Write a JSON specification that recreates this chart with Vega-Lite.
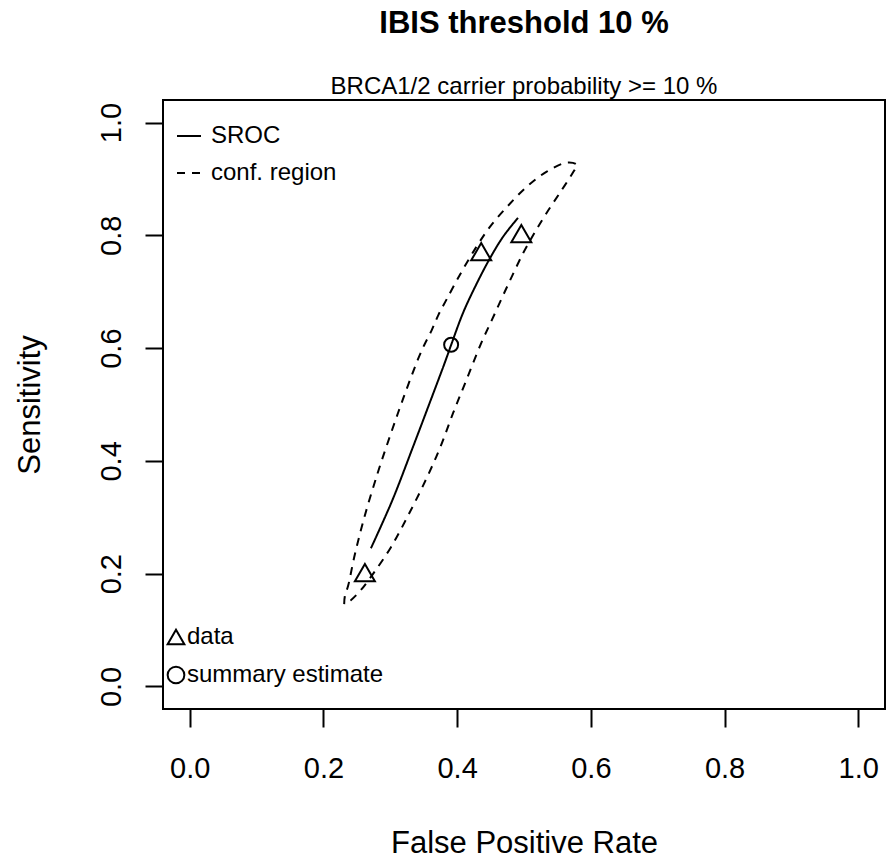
{
  "$schema": "https://vega.github.io/schema/vega-lite/v6.json",
  "width": 722,
  "height": 609,
  "autosize": {"type": "none"},
  "padding": {"left": 163, "top": 100, "right": 1, "bottom": 150},
  "background": "white",
  "config": {
    "font": "Liberation Sans",
    "view": {"stroke": "black", "strokeWidth": 2},
    "axis": {
      "domain": false,
      "grid": false,
      "tickSize": 18,
      "tickWidth": 2,
      "tickColor": "black",
      "labelColor": "black",
      "labelFontSize": 29,
      "titleColor": "black",
      "titleFontSize": 31,
      "titleFontWeight": "normal",
      "labelFlush": false,
      "labelOverlap": false
    }
  },
  "title": {
    "text": "IBIS threshold 10 %",
    "subtitle": "BRCA1/2 carrier probability >= 10 %",
    "fontSize": 31,
    "fontWeight": "bold",
    "color": "black",
    "subtitleFontSize": 24,
    "subtitleColor": "black",
    "subtitlePadding": 35,
    "anchor": "middle",
    "offset": 0
  },
  "datasets": {
    "curves": [
      {"series": "conf. region", "i": 1, "fpr": 0.231, "sens": 0.146},
      {"series": "conf. region", "i": 2, "fpr": 0.232, "sens": 0.160},
      {"series": "conf. region", "i": 3, "fpr": 0.237, "sens": 0.179},
      {"series": "conf. region", "i": 4, "fpr": 0.246, "sens": 0.229},
      {"series": "conf. region", "i": 5, "fpr": 0.260, "sens": 0.295},
      {"series": "conf. region", "i": 6, "fpr": 0.281, "sens": 0.378},
      {"series": "conf. region", "i": 7, "fpr": 0.301, "sens": 0.449},
      {"series": "conf. region", "i": 8, "fpr": 0.320, "sens": 0.513},
      {"series": "conf. region", "i": 9, "fpr": 0.341, "sens": 0.579},
      {"series": "conf. region", "i": 10, "fpr": 0.351, "sens": 0.606},
      {"series": "conf. region", "i": 11, "fpr": 0.362, "sens": 0.632},
      {"series": "conf. region", "i": 12, "fpr": 0.372, "sens": 0.659},
      {"series": "conf. region", "i": 13, "fpr": 0.384, "sens": 0.686},
      {"series": "conf. region", "i": 14, "fpr": 0.406, "sens": 0.734},
      {"series": "conf. region", "i": 15, "fpr": 0.429, "sens": 0.780},
      {"series": "conf. region", "i": 16, "fpr": 0.449, "sens": 0.815},
      {"series": "conf. region", "i": 17, "fpr": 0.475, "sens": 0.851},
      {"series": "conf. region", "i": 18, "fpr": 0.504, "sens": 0.886},
      {"series": "conf. region", "i": 19, "fpr": 0.534, "sens": 0.913},
      {"series": "conf. region", "i": 20, "fpr": 0.564, "sens": 0.929},
      {"series": "conf. region", "i": 21, "fpr": 0.579, "sens": 0.925},
      {"series": "conf. region", "i": 22, "fpr": 0.573, "sens": 0.911},
      {"series": "conf. region", "i": 23, "fpr": 0.554, "sens": 0.876},
      {"series": "conf. region", "i": 24, "fpr": 0.534, "sens": 0.840},
      {"series": "conf. region", "i": 25, "fpr": 0.516, "sens": 0.805},
      {"series": "conf. region", "i": 26, "fpr": 0.499, "sens": 0.769},
      {"series": "conf. region", "i": 27, "fpr": 0.483, "sens": 0.730},
      {"series": "conf. region", "i": 28, "fpr": 0.467, "sens": 0.689},
      {"series": "conf. region", "i": 29, "fpr": 0.452, "sens": 0.650},
      {"series": "conf. region", "i": 30, "fpr": 0.436, "sens": 0.609},
      {"series": "conf. region", "i": 31, "fpr": 0.414, "sens": 0.544},
      {"series": "conf. region", "i": 32, "fpr": 0.394, "sens": 0.485},
      {"series": "conf. region", "i": 33, "fpr": 0.375, "sens": 0.425},
      {"series": "conf. region", "i": 34, "fpr": 0.353, "sens": 0.366},
      {"series": "conf. region", "i": 35, "fpr": 0.327, "sens": 0.304},
      {"series": "conf. region", "i": 36, "fpr": 0.301, "sens": 0.247},
      {"series": "conf. region", "i": 37, "fpr": 0.275, "sens": 0.201},
      {"series": "conf. region", "i": 38, "fpr": 0.256, "sens": 0.171},
      {"series": "conf. region", "i": 39, "fpr": 0.241, "sens": 0.153},
      {"series": "conf. region", "i": 40, "fpr": 0.231, "sens": 0.146},
      {"series": "SROC", "i": 1, "fpr": 0.271, "sens": 0.245},
      {"series": "SROC", "i": 2, "fpr": 0.303, "sens": 0.330},
      {"series": "SROC", "i": 3, "fpr": 0.334, "sens": 0.425},
      {"series": "SROC", "i": 4, "fpr": 0.358, "sens": 0.500},
      {"series": "SROC", "i": 5, "fpr": 0.383, "sens": 0.579},
      {"series": "SROC", "i": 6, "fpr": 0.392, "sens": 0.609},
      {"series": "SROC", "i": 7, "fpr": 0.409, "sens": 0.663},
      {"series": "SROC", "i": 8, "fpr": 0.427, "sens": 0.709},
      {"series": "SROC", "i": 9, "fpr": 0.448, "sens": 0.757},
      {"series": "SROC", "i": 10, "fpr": 0.469, "sens": 0.798},
      {"series": "SROC", "i": 11, "fpr": 0.491, "sens": 0.831}
    ],
    "pts": [
      {"type": "data", "fpr": 0.262, "sens": 0.202},
      {"type": "data", "fpr": 0.436, "sens": 0.771},
      {"type": "data", "fpr": 0.496, "sens": 0.803},
      {"type": "summary estimate", "fpr": 0.391, "sens": 0.606}
    ]
  },
  "encoding": {
    "x": {
      "field": "fpr", "type": "quantitative",
      "scale": {"domain": [-0.04, 1.04], "nice": false, "zero": false},
      "axis": {"values": [0, 0.2, 0.4, 0.6, 0.8, 1], "format": ".1f", "labelPadding": 27, "titlePadding": 45},
      "title": "False Positive Rate"
    },
    "y": {
      "field": "sens", "type": "quantitative",
      "scale": {"domain": [-0.04, 1.04], "nice": false, "zero": false},
      "axis": {"values": [0, 0.2, 0.4, 0.6, 0.8, 1], "format": ".1f", "labelAngle": 270, "labelAlign": "center", "labelBaseline": "alphabetic", "labelPadding": 25, "titlePadding": 51},
      "title": "Sensitivity"
    }
  },
  "layer": [
    {
      "data": {"name": "curves"},
      "mark": {"type": "line", "color": "black", "strokeWidth": 2, "interpolate": "catmull-rom"},
      "encoding": {
        "order": {"field": "i", "type": "quantitative"},
        "detail": {"field": "series", "type": "nominal"},
        "strokeDash": {
          "field": "series", "type": "nominal",
          "scale": {"domain": ["SROC", "conf. region"], "range": [[1, 0], [8, 7]]},
          "legend": {
            "orient": "none", "legendX": 13, "legendY": 23, "title": null,
            "symbolType": "stroke", "symbolSize": 576, "symbolStrokeWidth": 2,
            "symbolStrokeColor": "black", "labelFontSize": 24, "labelColor": "black",
            "labelOffset": 9, "rowPadding": 12, "padding": 0, "labelLimit": 0
          }
        }
      }
    },
    {
      "data": {"name": "pts"},
      "transform": [{"filter": "datum.type === 'data'"}],
      "mark": {"type": "point", "filled": false, "color": "black", "strokeWidth": 2, "opacity": 1, "size": 400},
      "encoding": {
        "shape": {
          "field": "type", "type": "nominal",
          "scale": {"domain": ["data", "summary estimate"], "range": ["triangle-up", "circle"]},
          "legend": {
            "orient": "none", "legendX": 1, "legendY": 525, "title": null,
            "symbolSize": 279, "symbolStrokeWidth": 2, "symbolStrokeColor": "black",
            "symbolFillColor": "transparent",
            "labelFontSize": 24, "labelColor": "black", "labelOffset": -1, "labelLimit": 0,
            "rowPadding": 13, "padding": 0
          }
        }
      }
    },
    {
      "data": {"name": "pts"},
      "transform": [{"filter": "datum.type === 'summary estimate'"}],
      "mark": {"type": "point", "filled": false, "color": "black", "strokeWidth": 2, "opacity": 1, "size": 196},
      "encoding": {
        "shape": {"field": "type", "type": "nominal"}
      }
    }
  ]
}
